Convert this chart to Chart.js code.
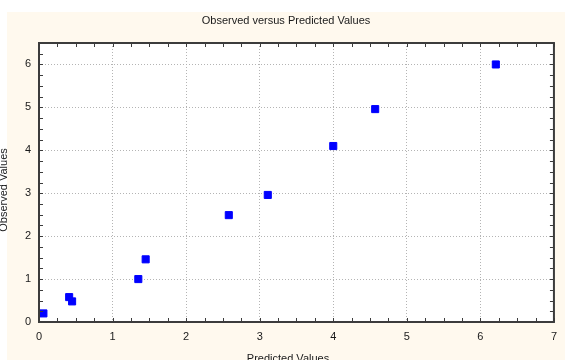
<!DOCTYPE html>
<html>
<head>
<meta charset="utf-8">
<script src="https://cdn.jsdelivr.net/npm/chart.js@4.4.1/dist/chart.umd.min.js"></script>
<style>
    html, body { margin: 0; padding: 0; background: #ffffff; }
    #wrap { position: relative; width: 565px; height: 360px; overflow: hidden; }
</style>
</head>
<body>
<div id="wrap"><canvas id="scatter" width="565" height="360"></canvas></div>
<script>
    // Data
    var predicted = [0.06, 0.41, 0.45, 1.35, 1.45, 2.58, 3.11, 4.0, 4.57, 6.21];
    var observed = [0.2, 0.58, 0.48, 1.0, 1.46, 2.49, 2.96, 4.1, 4.96, 6.0];
    var xTicks = [0, 1, 2, 3, 4, 5, 6, 7];
    var yTicks = [0, 1, 2, 3, 4, 5, 6];

    var chartTitle = "Observed versus Predicted Values";
    var xTitle = "Predicted Values";
    var yTitle = "Observed Values";

    var points = predicted.map(function (x, i) {
        return { x: x, y: observed[i] };
    });

    var FONT = "'Liberation Sans', Arial, sans-serif";
    var panelColor = "#fff9ee";
    var frameColor = "#3c3c3c";

    // Cream panel, white plot area, frame with inner ticks, axis titles
    var panel = {
        id: "panel",
        beforeDraw: function (chart) {
            var ctx = chart.ctx, a = chart.chartArea;
            ctx.save();
            ctx.fillStyle = panelColor;
            ctx.fillRect(7, 12, chart.width - 7, chart.height - 12);
            ctx.fillStyle = "#ffffff";
            ctx.fillRect(a.left, a.top, a.right - a.left, a.bottom - a.top);
            ctx.restore();
        },
        afterDraw: function (chart) {
            var ctx = chart.ctx, a = chart.chartArea;
            var xs = chart.scales.x, ys = chart.scales.y;
            var v, p, len = 4;
            ctx.save();
            ctx.strokeStyle = frameColor;
            ctx.lineWidth = 1;
            ctx.beginPath();
            for (v = xs.min; v <= xs.max + 1e-9; v += 0.25) {
                p = Math.round(xs.getPixelForValue(v)) + 0.5;
                ctx.moveTo(p, a.bottom); ctx.lineTo(p, a.bottom - len);
                ctx.moveTo(p, a.top); ctx.lineTo(p, a.top + len);
            }
            for (v = ys.min; v <= ys.max + 1e-9; v += 0.25) {
                p = Math.round(ys.getPixelForValue(v)) + 0.5;
                ctx.moveTo(a.left, p); ctx.lineTo(a.left + len, p);
                ctx.moveTo(a.right, p); ctx.lineTo(a.right - len, p);
            }
            ctx.stroke();
            ctx.lineWidth = 2;
            ctx.strokeRect(a.left, a.top, a.right - a.left, a.bottom - a.top);

            // axis titles, partly cut by the canvas edge as in the reference
            ctx.fillStyle = "#1a1a1a";
            ctx.font = "11px " + FONT;
            ctx.textAlign = "center";
            ctx.textBaseline = "middle";
            ctx.fillText(xTitle, 288, 359);
            ctx.textBaseline = "alphabetic";
            ctx.translate(7, 190);
            ctx.rotate(-Math.PI / 2);
            ctx.fillText(yTitle, 0, 0);
            ctx.restore();
        }
    };

    var ctx = document.getElementById("scatter").getContext("2d");
    new Chart(ctx, {
        type: "scatter",
        data: {
            datasets: [{
                data: points,
                pointStyle: "rect",
                pointRadius: 5,
                pointHoverRadius: 5,
                backgroundColor: "#0000ff",
                borderColor: "#0000ff",
                borderWidth: 1
            }]
        },
        options: {
            responsive: false,
            animation: false,
            layout: { padding: { left: 15, right: 8, top: 0, bottom: 0 } },
            plugins: {
                legend: { display: false },
                tooltip: { enabled: false },
                title: {
                    display: true,
                    text: chartTitle,
                    color: "#1a1a1a",
                    font: { family: FONT, size: 11, weight: "normal" },
                    padding: { top: 14, bottom: 15.8 }
                }
            },
            scales: {
                x: {
                    type: "linear",
                    min: xTicks[0],
                    max: xTicks[xTicks.length - 1],
                    afterFit: function (scale) { scale.height = 38; },
                    afterBuildTicks: function (scale) {
                        scale.ticks = xTicks.map(function (v) { return { value: v }; });
                    },
                    ticks: {
                        color: "#1a1a1a",
                        padding: 8,
                        maxRotation: 0,
                        font: { family: FONT, size: 11 }
                    },
                    grid: { color: "#b4b4b4", lineWidth: 1, drawTicks: false },
                    border: { display: false, dash: [1, 2] }
                },
                y: {
                    type: "linear",
                    min: 0,
                    max: 6.5,
                    afterFit: function (scale) { scale.width = 24; },
                    afterBuildTicks: function (scale) {
                        scale.ticks = yTicks.map(function (v) { return { value: v }; });
                    },
                    ticks: {
                        color: "#1a1a1a",
                        padding: 8,
                        font: { family: FONT, size: 11 }
                    },
                    grid: { color: "#b4b4b4", lineWidth: 1, drawTicks: false },
                    border: { display: false, dash: [1, 2] }
                }
            }
        },
        plugins: [panel]
    });
</script>
</body>
</html>
